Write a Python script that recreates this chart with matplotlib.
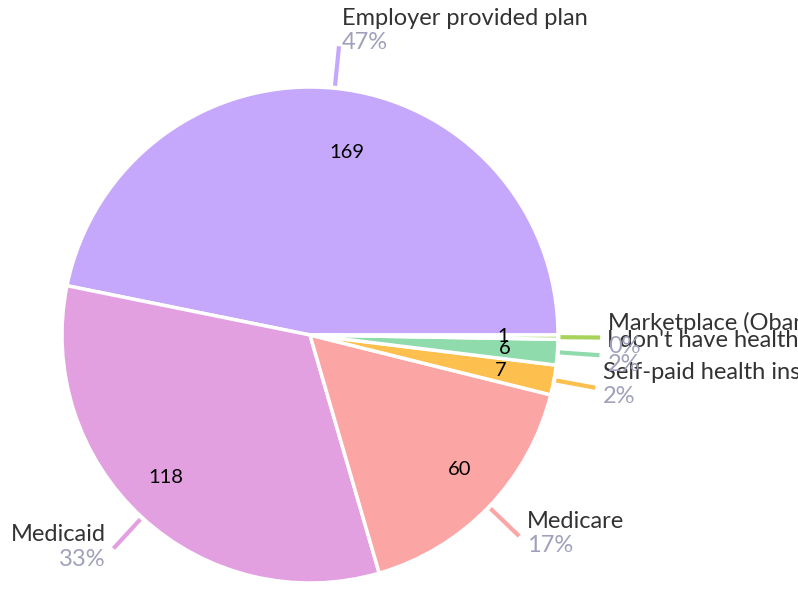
import matplotlib.pyplot as plt
import numpy as np

plt.rcParams['font.family'] = ['Lato', 'DejaVu Sans']

# data
labels = ["Employer provided plan", "Medicaid", "Medicare",
          "Self-paid health insurance", "I don't have health insurance",
          "Marketplace (Obamacare)"]
counts = [169, 118, 60, 7, 6, 1]
colors = ["#c5a8fc", "#e2a0e0", "#fca5a5", "#fdbf4d", "#8fdbac", "#a8d35a"]
# small pixel nudges of the value labels (style only)
value_nudge = [(18, -10), (-13, 0), (10, 0), (0, 0), (2, 0), (0, 0)]

W, H = 798, 590
fig = plt.figure(figsize=(W / 100, H / 100), dpi=100)
ax = fig.add_axes([0, 0, 1, 1])

cx, cy, R = 310, H - 335, 248

wedges, _ = ax.pie(counts, colors=colors, startangle=0, counterclock=True,
                   radius=R, center=(cx, cy), frame=True,
                   wedgeprops=dict(edgecolor='white', linewidth=2.5))
ax.set_xlim(0, W)
ax.set_ylim(0, H)
ax.set_aspect('equal')
ax.axis('off')

total = sum(counts)
for w, lab, n, col, (ndx, ndy) in zip(wedges, labels, counts, colors, value_nudge):
    ang = np.deg2rad((w.theta1 + w.theta2) / 2)
    c, s = np.cos(ang), np.sin(ang)
    # value inside the slice
    ax.text(cx + 0.78 * R * c + ndx, cy + 0.78 * R * s + ndy, str(n),
            ha='center', va='center', fontsize=14.5, color='black')
    # leader line
    x0, y0 = cx + 1.01 * R * c, cy + 1.01 * R * s
    x1, y1 = cx + 1.17 * R * c, cy + 1.17 * R * s
    ax.plot([x0, x1], [y0, y1], color=col, lw=3, solid_capstyle='butt')
    pct = f"{round(100 * n / total)}%"
    if s > 0.9:
        tx, ha = x1 + 3, 'left'
        ny, py = y1 + 28, y1 + 4
    elif c > 0:
        tx, ha = x1 + 8, 'left'
        ny, py = y1 + 15, y1 - 9
    else:
        tx, ha = x1 - 8, 'right'
        ny, py = y1 + 14, y1 - 11
    ax.text(tx, ny, lab, ha=ha, va='center', fontsize=17, color='#333333')
    ax.text(tx, py, pct, ha=ha, va='center', fontsize=17, color='#a0a0bc')

fig.savefig("out.png", dpi=100)
